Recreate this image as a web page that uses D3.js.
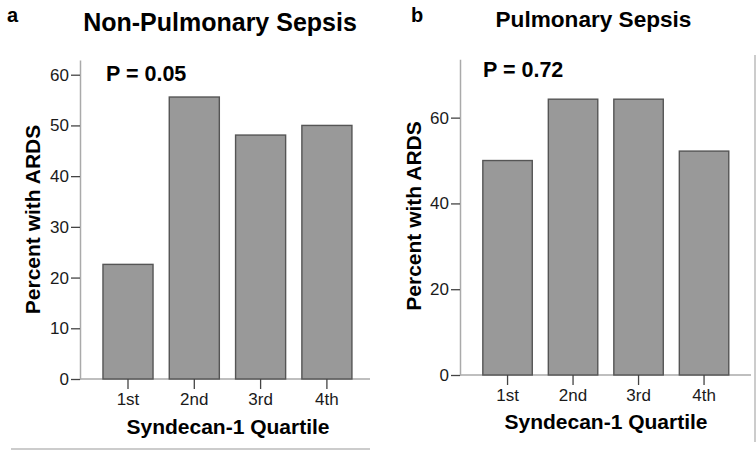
<!DOCTYPE html>
<html><head><meta charset="utf-8">
<script src="https://cdn.jsdelivr.net/npm/d3@7"></script>
<style>
body{margin:0;background:#fff;}
svg{display:block;font-family:"Liberation Sans",Arial,sans-serif;}
</style></head>
<body>
<svg id="c" width="756" height="450"></svg>
<script>
const categories = ["1st","2nd","3rd","4th"];
const nonPulmonaryValues = [22.6, 55.6, 48.1, 50.0];
const pulmonaryValues = [50.0, 64.3, 64.3, 52.2];
const nonPulmonaryTicks = [0,10,20,30,40,50,60];
const pulmonaryTicks = [0,20,40,60];
const panelTitles = ["Non-Pulmonary Sepsis","Pulmonary Sepsis"];
const panelLetters = ["a","b"];
const pValues = ["P = 0.05","P = 0.72"];
const xTitle = "Syndecan-1 Quartile";
const yTitle = "Percent with ARDS";

const svg = d3.select("#c");

const panels = [
  {values: nonPulmonaryValues, ticks: nonPulmonaryTicks, yMax: 62.9,
   axisX: 80, y0: 379, yTop: 60, bandRange:[94.85,360.05], xEnd: 370,
   title: panelTitles[0], titleX: 220, titleY: 31, titleSize: 25,
   letter: panelLetters[0], letterX: 7, letterY: 22,
   p: pValues[0], pX: 106, pY: 81, yTitleX: 40, yTitleY: 219.5,
   xTitleX: 228, xTitleY: 434},
  {values: pulmonaryValues, ticks: pulmonaryTicks, yMax: 73.6,
   axisX: 460, y0: 375, yTop: 59.3, bandRange:[474.8,736.8], xEnd: 751,
   title: panelTitles[1], titleX: 593.5, titleY: 27, titleSize: 22.6,
   letter: panelLetters[1], letterX: 411, letterY: 22,
   p: pValues[1], pX: 483, pY: 77, yTitleX: 421, yTitleY: 216,
   xTitleX: 606, xTitleY: 429}
];

panels.forEach(P => {
  const g = svg.append("g");
  const y = d3.scaleLinear().domain([0, P.yMax]).range([P.y0, P.yTop]);
  const x = d3.scaleBand().domain(categories).range(P.bandRange)
      .paddingInner(0.245).paddingOuter(0.1225);

  g.append("line").attr("x1", P.axisX).attr("x2", P.xEnd)
    .attr("y1", P.y0).attr("y2", P.y0).attr("stroke", "#aaa").attr("stroke-width", 1.5);

  g.selectAll("rect.bar").data(P.values).enter().append("rect")
    .attr("class","bar")
    .attr("x", (d,i) => x(categories[i]))
    .attr("width", x.bandwidth())
    .attr("y", d => y(d))
    .attr("height", d => y(0) - y(d))
    .attr("fill", "#999999").attr("stroke", "#555").attr("stroke-width", 1.4);

  const ya = g.append("g").attr("transform", `translate(${P.axisX},0)`)
    .call(d3.axisLeft(y).tickValues(P.ticks).tickSize(9).tickSizeOuter(0).tickPadding(2));
  ya.select(".domain").attr("stroke", "#aaa").attr("stroke-width", 1.5);
  ya.selectAll(".tick line").attr("stroke", "#444").attr("stroke-width", 1.3);
  ya.selectAll(".tick text").attr("fill", "#1a1a1a")
    .style("font-size", "17px").style("font-family", "Liberation Sans, Arial, sans-serif");

  const xa = g.append("g").attr("transform", `translate(0,${P.y0})`)
    .call(d3.axisBottom(x).tickSize(10).tickSizeOuter(0).tickPadding(4));
  xa.select(".domain").remove();
  xa.selectAll(".tick line").attr("stroke", "#444").attr("stroke-width", 1.3);
  xa.selectAll(".tick text").attr("fill", "#1a1a1a")
    .style("font-size", "17px").style("font-family", "Liberation Sans, Arial, sans-serif");

  g.append("text").attr("x", P.titleX).attr("y", P.titleY).attr("text-anchor","middle")
    .attr("font-weight","bold").attr("font-size", P.titleSize).attr("fill","#000").text(P.title);
  g.append("text").attr("x", P.letterX).attr("y", P.letterY)
    .attr("font-weight","bold").attr("font-size", 20).attr("fill","#000").text(P.letter);
  g.append("text").attr("x", P.pX).attr("y", P.pY)
    .attr("font-weight","bold").attr("font-size", 21.5).attr("fill","#000").text(P.p);
  g.append("text").attr("transform", `translate(${P.yTitleX},${P.yTitleY}) rotate(-90)`)
    .attr("text-anchor","middle").attr("font-weight","bold").attr("font-size", 21)
    .attr("fill","#000").text(yTitle);
  g.append("text").attr("x", P.xTitleX).attr("y", P.xTitleY).attr("text-anchor","middle")
    .attr("font-weight","bold").attr("font-size", 21).attr("fill","#000").text(xTitle);
});

svg.append("line").attr("x1", 11).attr("x2", 370).attr("y1", 449).attr("y2", 449)
  .attr("stroke", "#bbb").attr("stroke-width", 1.5);
svg.append("line").attr("x1", 755).attr("x2", 755).attr("y1", 55).attr("y2", 442)
  .attr("stroke", "#bbb").attr("stroke-width", 1.5);
</script>
</body></html>
